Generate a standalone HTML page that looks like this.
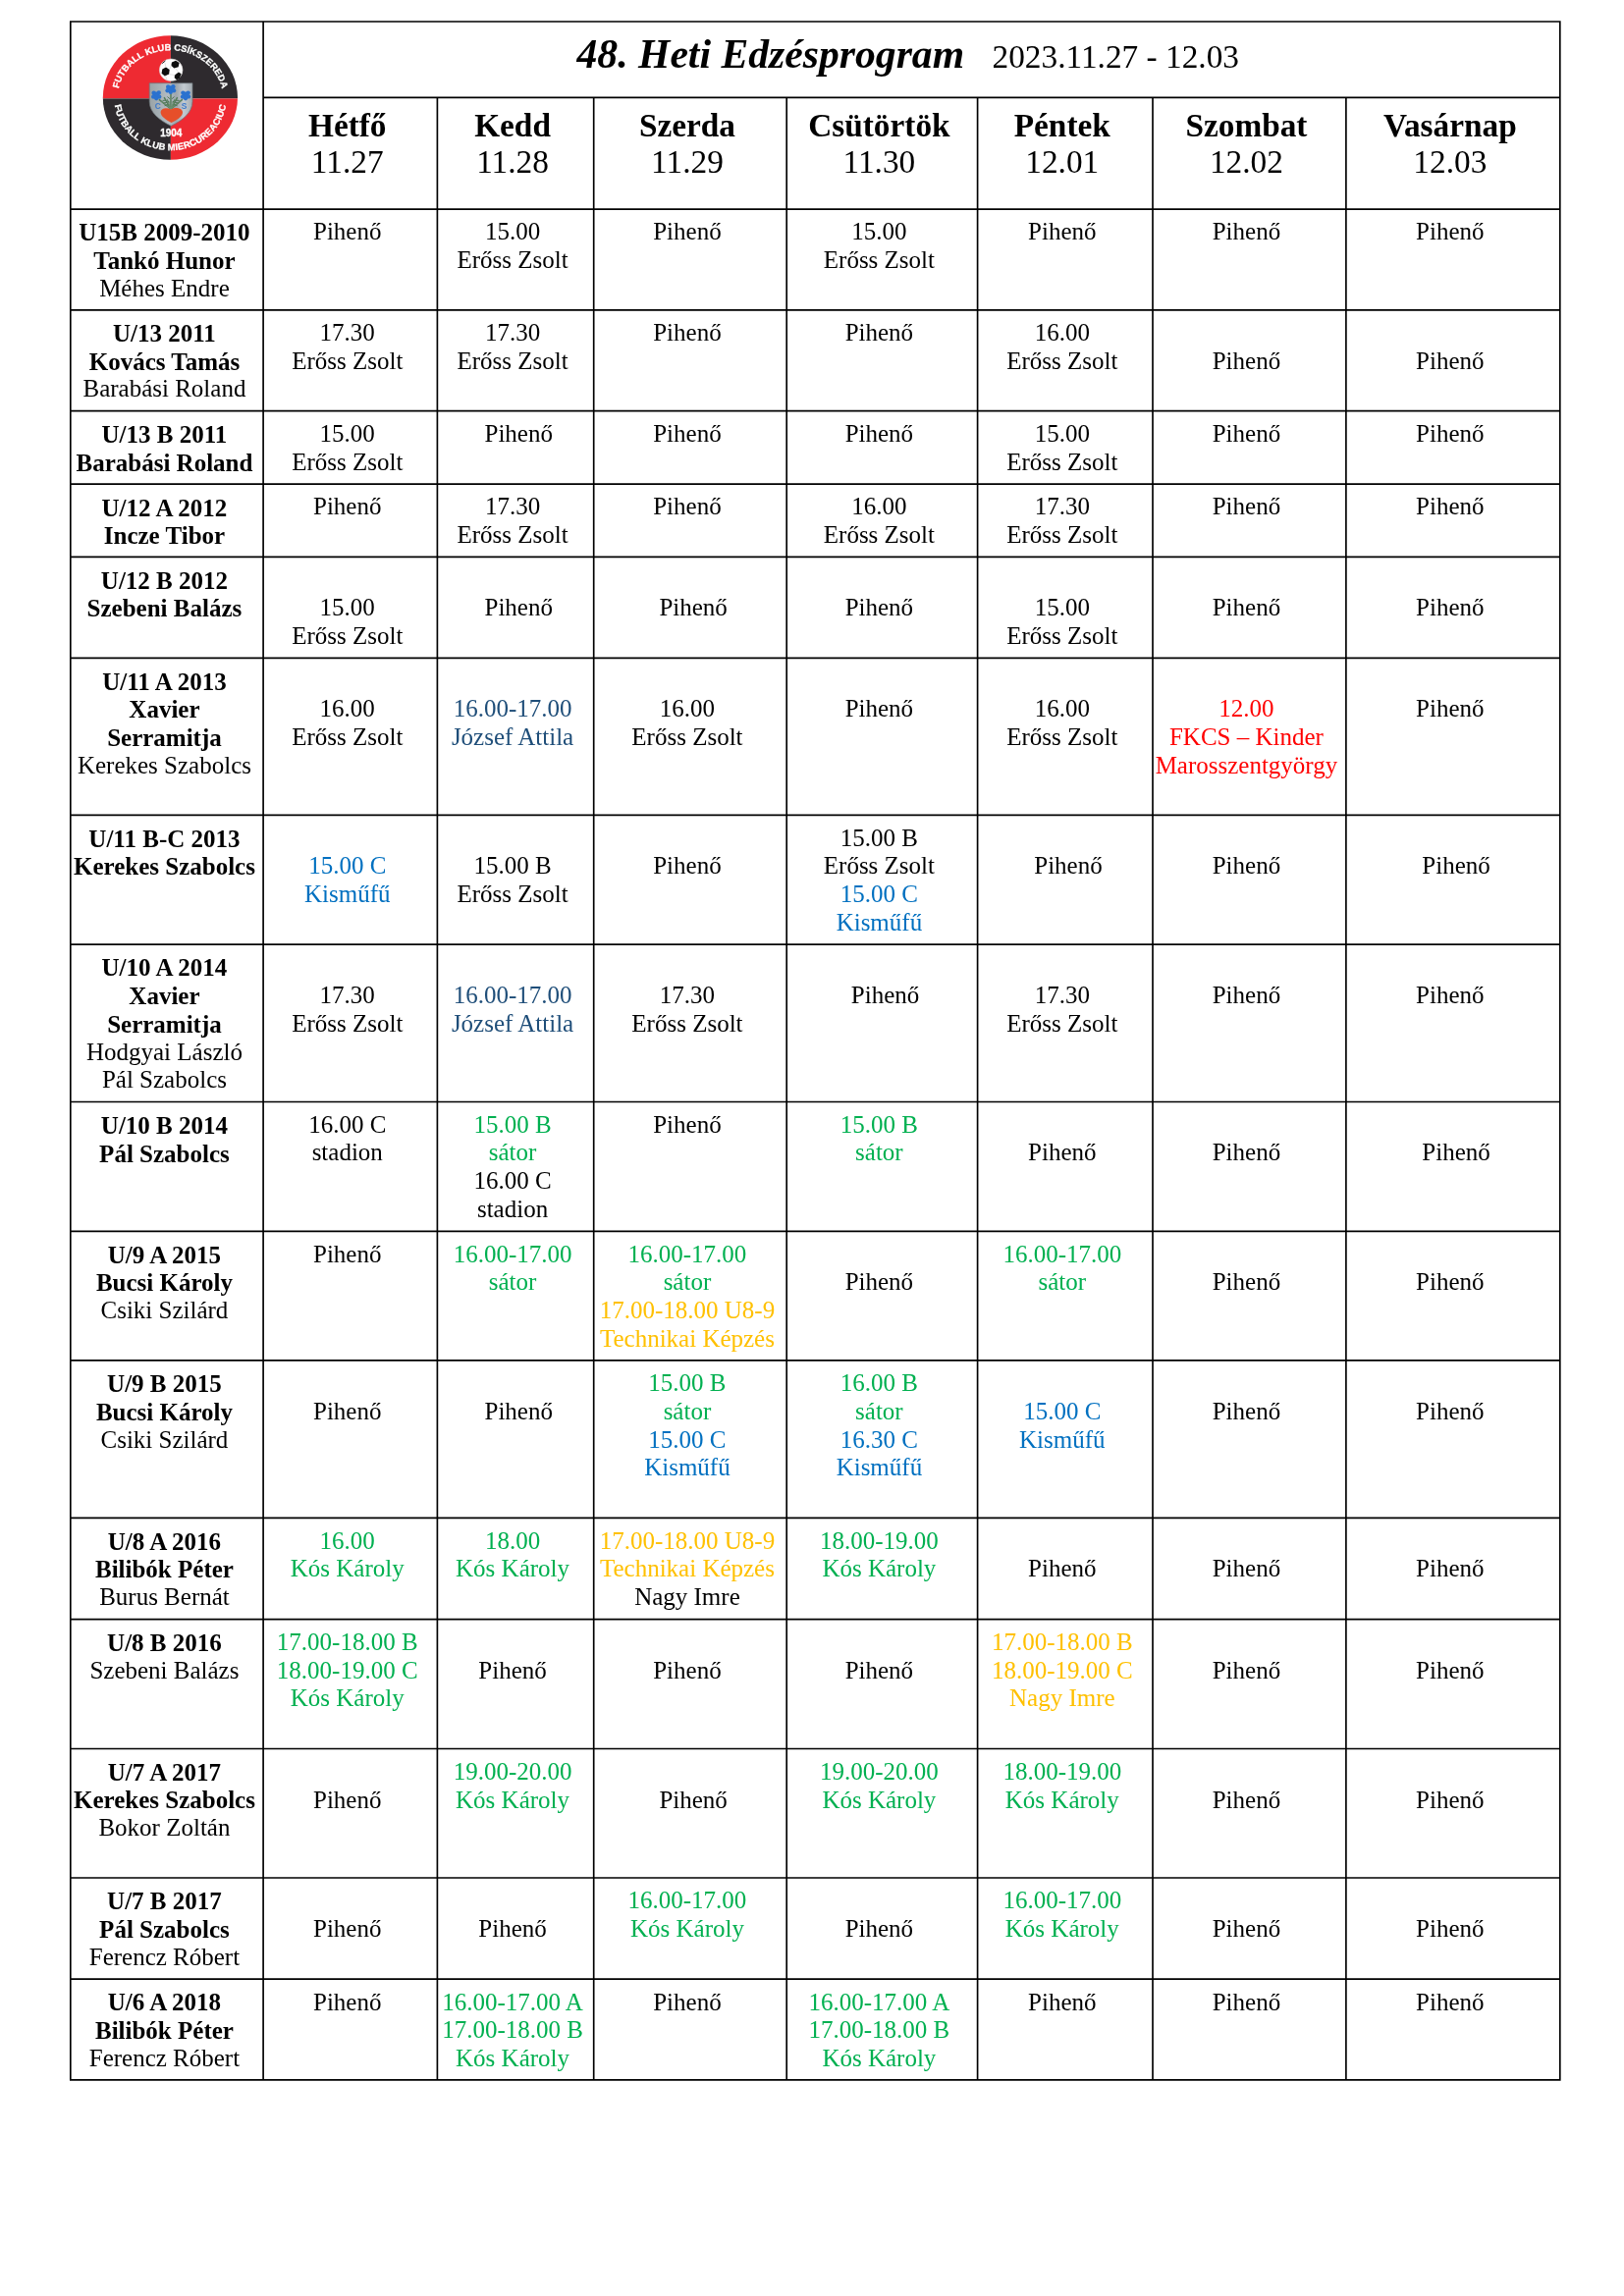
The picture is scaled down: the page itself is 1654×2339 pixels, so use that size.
<!DOCTYPE html>
<html lang="hu"><head><meta charset="utf-8"><title>48. Heti Edzésprogram</title>
<style>
html,body{margin:0;padding:0;background:#fff;}
body{width:1654px;height:2339px;position:relative;overflow:hidden;font-family:"Liberation Serif",serif;color:#000;}
#pg{position:absolute;left:0;top:0;width:1654px;height:2339px;will-change:transform;}
.c,.cb,.h,.hb,.t1,.t2{position:absolute;text-align:center;white-space:pre;}
.c,.cb{font-size:25px;line-height:27px;height:27px;}
.h,.hb{font-size:33.33px;line-height:37px;height:37px;}
.cb,.hb{font-weight:bold;}
.t1{font-size:41.67px;line-height:46px;font-weight:bold;font-style:italic;}
.t2{font-size:33.33px;line-height:37px;}
#grid{position:absolute;left:0;top:0;}
#logo{position:absolute;}
</style></head><body><div id="pg">
<svg id="grid" width="1654" height="2339" viewBox="0 0 1654 2339" fill="none" stroke="#000" stroke-width="1.67">
<path d="M70.97 22.00H1589.63M268.10 99.30H1589.63M70.97 213.10H1589.63M70.97 315.80H1589.63M70.97 418.60H1589.63M70.97 493.20H1589.63M70.97 567.40H1589.63M70.97 670.40H1589.63M70.97 830.40H1589.63M70.97 962.20H1589.63M70.97 1122.50H1589.63M70.97 1254.40H1589.63M70.97 1385.90H1589.63M70.97 1546.40H1589.63M70.97 1649.60H1589.63M70.97 1781.50H1589.63M70.97 1913.00H1589.63M70.97 2016.20H1589.63M70.97 2118.90H1589.63M71.80 21.16V2119.73M268.10 21.16V2119.73M445.40 99.30V2119.73M604.70 99.30V2119.73M801.20 99.30V2119.73M995.60 99.30V2119.73M1174.00 99.30V2119.73M1370.90 99.30V2119.73M1588.80 21.16V2119.73"/>
</svg>
<svg id="logo" style="left:100px;top:30px" width="150" height="140" viewBox="0 0 150 140" font-family="Liberation Sans, sans-serif" font-weight="bold">
<defs>
<clipPath id="lc"><ellipse cx="73.4" cy="69.5" rx="68.6" ry="63.2"/></clipPath>
<linearGradient id="sg" x1="0" y1="0" x2="1" y2="0"><stop offset="0" stop-color="#9aa3a6"/><stop offset=".45" stop-color="#b3bcc3"/><stop offset=".62" stop-color="#9ea6ad"/><stop offset=".8" stop-color="#c3cad0"/><stop offset="1" stop-color="#a3abb1"/></linearGradient>
<filter id="bl" x="-5%" y="-5%" width="110%" height="110%"><feGaussianBlur stdDeviation="0.45"/></filter>
<path id="ta" d="M20.9 60.3A53.5 48.3 0 0 1 125.9 60.3"/>
<path id="ba" d="M16.7 77.25A57.3 53.7 0 0 0 130.1 77.25"/>
</defs>
<g filter="url(#bl)">
<g clip-path="url(#lc)">
<rect x="0" y="0" width="73.9" height="70.4" fill="#ee2b33"/>
<rect x="73.9" y="0" width="80" height="70.4" fill="#2e2c2f"/>
<rect x="0" y="70.4" width="73.9" height="75" fill="#2e2c2f"/>
<rect x="73.9" y="70.4" width="80" height="75" fill="#ee2b33"/>
</g>
<text font-size="9.3" font-weight="bold" fill="#fff" stroke="#fff" stroke-width=".25"><textPath href="#ta" textLength="141.2" lengthAdjust="spacing">FUTBALL KLUB CSÍKSZEREDA</textPath></text>
<text font-size="9.4" font-weight="bold" fill="#fff" stroke="#fff" stroke-width=".25"><textPath href="#ba" textLength="158.7" lengthAdjust="spacing">FUTBALL KLUB MIERCUREACIUC</textPath></text>
<text x="74.3" y="108.5" font-size="10" font-weight="bold" fill="#fff" stroke="#fff" stroke-width=".3" text-anchor="middle">1904</text>
<!-- ball -->
<ellipse cx="74.2" cy="41.3" rx="11.8" ry="11.3" fill="#fdfdfd" stroke="#d9d4d4" stroke-width=".6"/>
<path d="M65.3 40.4l3.7-1.9 3.7 2.4-.6 4.7-4.3 2-3.2-2.8z" fill="#0a0a0a"/>
<path d="M75 33.4l4-1.7 3.6 2.3-1 4.2-4.3 1.4-3-2.9z" fill="#0a0a0a"/>
<path d="M77.9 46.6l4-3 2.7 1.7-1.8 4.4-2.9 1.6-2.2-2.1z" fill="#0a0a0a"/>
<path d="M65.2 34.6l3.2-2.6" stroke="#222" stroke-width="1" fill="none"/>
<path d="M72.3 41.2l2.5-5.1M72 45.5l6.5 1.2M78.5 39.3l3.5 4.7M69 39l-1-5M68 46.5l2 4.5" stroke="#c8c8c8" stroke-width=".5" fill="none"/>
<!-- shield -->
<path d="M52.2 54.7H96V73.5C96 84.5 86 92.6 74.2 98.3C62.4 92.6 52.2 84.5 52.2 73.5Z" fill="url(#sg)" stroke="#6c7378" stroke-width=".7"/>
<!-- leaves -->
<g stroke="#557d5c" stroke-width="1.5" fill="none" stroke-linecap="round">
<path d="M73.8 80.8L62.3 71.6M73.8 80.8L67.4 69.6M73.9 80.8L74 65.2M74.2 80.8L80.4 69.6M74.4 80.8L85.4 71.6"/>
<path d="M73.9 80.6L70.4 71.4M74 80.6L77.8 71.4M73.6 80.4L65 73.4M74.4 80.4L83 73.4" stroke="#6a8f70" stroke-width="1.2"/>
<path d="M68.6 72.2l-2.6.2M69.6 74.4l-2.8.6M70.8 76.6l-2.8 1M79.6 72.2l2.6.2M78.6 74.4l2.8.6M77.4 76.6l2.8 1M72.6 70.4l-1.8-1.6M75.4 70.4l1.8-1.6M72.4 74l-2-1.2M75.6 74l2-1.2" stroke="#4f7556" stroke-width="1"/>
</g>
<!-- flowers -->
<g fill="#2a72cf">
<circle cx="73.8" cy="60.6" r="3.4"/><circle cx="71.2" cy="58.4" r="2.2"/><circle cx="76.4" cy="58.3" r="2.2"/><circle cx="70.6" cy="62.2" r="2.2"/><circle cx="77" cy="62.2" r="2.2"/><circle cx="73.8" cy="64" r="2.1"/>
<circle cx="59.2" cy="66.8" r="3.4"/><circle cx="56.6" cy="64.8" r="2.2"/><circle cx="61.8" cy="64.4" r="2.2"/><circle cx="56.2" cy="68.6" r="2.2"/><circle cx="62.2" cy="68.6" r="2.2"/><circle cx="59.2" cy="70.3" r="2.1"/>
<circle cx="89" cy="66.8" r="3.4"/><circle cx="86.4" cy="64.6" r="2.2"/><circle cx="91.6" cy="64.6" r="2.2"/><circle cx="86" cy="68.6" r="2.2"/><circle cx="92" cy="68.4" r="2.2"/><circle cx="89" cy="70.3" r="2.1"/>
</g>
<!-- letters -->
<text x="60.7" y="80.6" font-size="8.4" font-weight="bold" fill="#3f7acb" text-anchor="middle">C</text>
<text x="87.6" y="80.6" font-size="8.4" font-weight="bold" fill="#3f7acb" text-anchor="middle">S</text>
<!-- heart -->
<path d="M74.6 94.9C70 92.5 63.4 88.6 63.6 84.2C63.8 80.4 69.6 78.8 74.2 81.4C78.8 78.8 85.8 80.2 86 84.4C86.2 88.6 79.4 92.5 74.6 94.9Z" fill="#e6502a"/>
</g>
</svg>
<div class="t1" style="left:587.5px;top:32px;">48. Heti Edzésprogram</div>
<div class="t2" style="left:1010.5px;top:39px;">2023.11.27 - 12.03</div>
<div class="hb" style="left:265.1px;width:177.3px;top:109px;">Hétfő</div>
<div class="h" style="left:265.1px;width:177.3px;top:146px;">11.27</div>
<div class="hb" style="left:442.4px;width:159.3px;top:109px;">Kedd</div>
<div class="h" style="left:442.4px;width:159.3px;top:146px;">11.28</div>
<div class="hb" style="left:601.7px;width:196.5px;top:109px;">Szerda</div>
<div class="h" style="left:601.7px;width:196.5px;top:146px;">11.29</div>
<div class="hb" style="left:798.2px;width:194.4px;top:109px;">Csütörtök</div>
<div class="h" style="left:798.2px;width:194.4px;top:146px;">11.30</div>
<div class="hb" style="left:992.6px;width:178.4px;top:109px;">Péntek</div>
<div class="h" style="left:992.6px;width:178.4px;top:146px;">12.01</div>
<div class="hb" style="left:1171.0px;width:196.9px;top:109px;">Szombat</div>
<div class="h" style="left:1171.0px;width:196.9px;top:146px;">12.02</div>
<div class="hb" style="left:1367.9px;width:217.9px;top:109px;">Vasárnap</div>
<div class="h" style="left:1367.9px;width:217.9px;top:146px;">12.03</div>
<div class="cb" style="left:69.3px;width:196.3px;top:223px;">U15B 2009-2010</div>
<div class="cb" style="left:69.3px;width:196.3px;top:252px;">Tankó Hunor</div>
<div class="c" style="left:69.3px;width:196.3px;top:280px;">Méhes Endre</div>
<div class="c" style="left:265.1px;width:177.3px;top:222px;">Pihenő</div>
<div class="c" style="left:442.4px;width:159.3px;top:222px;">15.00</div>
<div class="c" style="left:442.4px;width:159.3px;top:251px;">Erőss Zsolt</div>
<div class="c" style="left:601.7px;width:196.5px;top:222px;">Pihenő</div>
<div class="c" style="left:798.2px;width:194.4px;top:222px;">15.00</div>
<div class="c" style="left:798.2px;width:194.4px;top:251px;">Erőss Zsolt</div>
<div class="c" style="left:992.6px;width:178.4px;top:222px;">Pihenő</div>
<div class="c" style="left:1171.0px;width:196.9px;top:222px;">Pihenő</div>
<div class="c" style="left:1367.9px;width:217.9px;top:222px;">Pihenő</div>
<div class="cb" style="left:69.3px;width:196.3px;top:326px;">U/13 2011</div>
<div class="cb" style="left:69.3px;width:196.3px;top:355px;">Kovács Tamás</div>
<div class="c" style="left:69.3px;width:196.3px;top:382px;">Barabási Roland</div>
<div class="c" style="left:265.1px;width:177.3px;top:325px;">17.30</div>
<div class="c" style="left:265.1px;width:177.3px;top:354px;">Erőss Zsolt</div>
<div class="c" style="left:442.4px;width:159.3px;top:325px;">17.30</div>
<div class="c" style="left:442.4px;width:159.3px;top:354px;">Erőss Zsolt</div>
<div class="c" style="left:601.7px;width:196.5px;top:325px;">Pihenő</div>
<div class="c" style="left:798.2px;width:194.4px;top:325px;">Pihenő</div>
<div class="c" style="left:992.6px;width:178.4px;top:325px;">16.00</div>
<div class="c" style="left:992.6px;width:178.4px;top:354px;">Erőss Zsolt</div>
<div class="c" style="left:1171.0px;width:196.9px;top:354px;">Pihenő</div>
<div class="c" style="left:1367.9px;width:217.9px;top:354px;">Pihenő</div>
<div class="cb" style="left:69.3px;width:196.3px;top:429px;">U/13 B 2011</div>
<div class="cb" style="left:69.3px;width:196.3px;top:458px;">Barabási Roland</div>
<div class="c" style="left:265.1px;width:177.3px;top:428px;">15.00</div>
<div class="c" style="left:265.1px;width:177.3px;top:457px;">Erőss Zsolt</div>
<div class="c" style="left:448.6px;width:159.3px;top:428px;">Pihenő</div>
<div class="c" style="left:601.7px;width:196.5px;top:428px;">Pihenő</div>
<div class="c" style="left:798.2px;width:194.4px;top:428px;">Pihenő</div>
<div class="c" style="left:992.6px;width:178.4px;top:428px;">15.00</div>
<div class="c" style="left:992.6px;width:178.4px;top:457px;">Erőss Zsolt</div>
<div class="c" style="left:1171.0px;width:196.9px;top:428px;">Pihenő</div>
<div class="c" style="left:1367.9px;width:217.9px;top:428px;">Pihenő</div>
<div class="cb" style="left:69.3px;width:196.3px;top:504px;">U/12 A 2012</div>
<div class="cb" style="left:69.3px;width:196.3px;top:532px;">Incze Tibor</div>
<div class="c" style="left:265.1px;width:177.3px;top:502px;">Pihenő</div>
<div class="c" style="left:442.4px;width:159.3px;top:502px;">17.30</div>
<div class="c" style="left:442.4px;width:159.3px;top:531px;">Erőss Zsolt</div>
<div class="c" style="left:601.7px;width:196.5px;top:502px;">Pihenő</div>
<div class="c" style="left:798.2px;width:194.4px;top:502px;">16.00</div>
<div class="c" style="left:798.2px;width:194.4px;top:531px;">Erőss Zsolt</div>
<div class="c" style="left:992.6px;width:178.4px;top:502px;">17.30</div>
<div class="c" style="left:992.6px;width:178.4px;top:531px;">Erőss Zsolt</div>
<div class="c" style="left:1171.0px;width:196.9px;top:502px;">Pihenő</div>
<div class="c" style="left:1367.9px;width:217.9px;top:502px;">Pihenő</div>
<div class="cb" style="left:69.3px;width:196.3px;top:578px;">U/12 B 2012</div>
<div class="cb" style="left:69.3px;width:196.3px;top:606px;">Szebeni Balázs</div>
<div class="c" style="left:265.1px;width:177.3px;top:605px;">15.00</div>
<div class="c" style="left:265.1px;width:177.3px;top:634px;">Erőss Zsolt</div>
<div class="c" style="left:448.6px;width:159.3px;top:605px;">Pihenő</div>
<div class="c" style="left:607.9px;width:196.5px;top:605px;">Pihenő</div>
<div class="c" style="left:798.2px;width:194.4px;top:605px;">Pihenő</div>
<div class="c" style="left:992.6px;width:178.4px;top:605px;">15.00</div>
<div class="c" style="left:992.6px;width:178.4px;top:634px;">Erőss Zsolt</div>
<div class="c" style="left:1171.0px;width:196.9px;top:605px;">Pihenő</div>
<div class="c" style="left:1367.9px;width:217.9px;top:605px;">Pihenő</div>
<div class="cb" style="left:69.3px;width:196.3px;top:681px;">U/11 A 2013</div>
<div class="cb" style="left:69.3px;width:196.3px;top:709px;">Xavier</div>
<div class="cb" style="left:69.3px;width:196.3px;top:738px;">Serramitja</div>
<div class="c" style="left:69.3px;width:196.3px;top:766px;">Kerekes Szabolcs</div>
<div class="c" style="left:265.1px;width:177.3px;top:708px;">16.00</div>
<div class="c" style="left:265.1px;width:177.3px;top:737px;">Erőss Zsolt</div>
<div class="c" style="left:442.4px;width:159.3px;top:708px;color:#1F4E79;">16.00-17.00</div>
<div class="c" style="left:442.4px;width:159.3px;top:737px;color:#1F4E79;">József Attila</div>
<div class="c" style="left:601.7px;width:196.5px;top:708px;">16.00</div>
<div class="c" style="left:601.7px;width:196.5px;top:737px;">Erőss Zsolt</div>
<div class="c" style="left:798.2px;width:194.4px;top:708px;">Pihenő</div>
<div class="c" style="left:992.6px;width:178.4px;top:708px;">16.00</div>
<div class="c" style="left:992.6px;width:178.4px;top:737px;">Erőss Zsolt</div>
<div class="c" style="left:1171.0px;width:196.9px;top:708px;color:#FF0000;">12.00</div>
<div class="c" style="left:1171.0px;width:196.9px;top:737px;color:#FF0000;">FKCS – Kinder</div>
<div class="c" style="left:1171.0px;width:196.9px;top:766px;color:#FF0000;">Marosszentgyörgy</div>
<div class="c" style="left:1367.9px;width:217.9px;top:708px;">Pihenő</div>
<div class="cb" style="left:69.3px;width:196.3px;top:841px;">U/11 B-C 2013</div>
<div class="cb" style="left:69.3px;width:196.3px;top:869px;">Kerekes Szabolcs</div>
<div class="c" style="left:265.1px;width:177.3px;top:868px;color:#0070C0;">15.00 C</div>
<div class="c" style="left:265.1px;width:177.3px;top:897px;color:#0070C0;">Kisműfű</div>
<div class="c" style="left:442.4px;width:159.3px;top:868px;">15.00 B</div>
<div class="c" style="left:442.4px;width:159.3px;top:897px;">Erőss Zsolt</div>
<div class="c" style="left:601.7px;width:196.5px;top:868px;">Pihenő</div>
<div class="c" style="left:798.2px;width:194.4px;top:840px;">15.00 B</div>
<div class="c" style="left:798.2px;width:194.4px;top:868px;">Erőss Zsolt</div>
<div class="c" style="left:798.2px;width:194.4px;top:897px;color:#0070C0;">15.00 C</div>
<div class="c" style="left:798.2px;width:194.4px;top:926px;color:#0070C0;">Kisműfű</div>
<div class="c" style="left:998.8px;width:178.4px;top:868px;">Pihenő</div>
<div class="c" style="left:1171.0px;width:196.9px;top:868px;">Pihenő</div>
<div class="c" style="left:1374.1px;width:217.9px;top:868px;">Pihenő</div>
<div class="cb" style="left:69.3px;width:196.3px;top:972px;">U/10 A 2014</div>
<div class="cb" style="left:69.3px;width:196.3px;top:1001px;">Xavier</div>
<div class="cb" style="left:69.3px;width:196.3px;top:1030px;">Serramitja</div>
<div class="c" style="left:69.3px;width:196.3px;top:1058px;">Hodgyai László</div>
<div class="c" style="left:69.3px;width:196.3px;top:1086px;">Pál Szabolcs</div>
<div class="c" style="left:265.1px;width:177.3px;top:1000px;">17.30</div>
<div class="c" style="left:265.1px;width:177.3px;top:1029px;">Erőss Zsolt</div>
<div class="c" style="left:442.4px;width:159.3px;top:1000px;color:#1F4E79;">16.00-17.00</div>
<div class="c" style="left:442.4px;width:159.3px;top:1029px;color:#1F4E79;">József Attila</div>
<div class="c" style="left:601.7px;width:196.5px;top:1000px;">17.30</div>
<div class="c" style="left:601.7px;width:196.5px;top:1029px;">Erőss Zsolt</div>
<div class="c" style="left:804.4px;width:194.4px;top:1000px;">Pihenő</div>
<div class="c" style="left:992.6px;width:178.4px;top:1000px;">17.30</div>
<div class="c" style="left:992.6px;width:178.4px;top:1029px;">Erőss Zsolt</div>
<div class="c" style="left:1171.0px;width:196.9px;top:1000px;">Pihenő</div>
<div class="c" style="left:1367.9px;width:217.9px;top:1000px;">Pihenő</div>
<div class="cb" style="left:69.3px;width:196.3px;top:1133px;">U/10 B 2014</div>
<div class="cb" style="left:69.3px;width:196.3px;top:1162px;">Pál Szabolcs</div>
<div class="c" style="left:265.1px;width:177.3px;top:1132px;">16.00 C</div>
<div class="c" style="left:265.1px;width:177.3px;top:1160px;">stadion</div>
<div class="c" style="left:442.4px;width:159.3px;top:1132px;color:#00B050;">15.00 B</div>
<div class="c" style="left:442.4px;width:159.3px;top:1160px;color:#00B050;">sátor</div>
<div class="c" style="left:442.4px;width:159.3px;top:1189px;">16.00 C</div>
<div class="c" style="left:442.4px;width:159.3px;top:1218px;">stadion</div>
<div class="c" style="left:601.7px;width:196.5px;top:1132px;">Pihenő</div>
<div class="c" style="left:798.2px;width:194.4px;top:1132px;color:#00B050;">15.00 B</div>
<div class="c" style="left:798.2px;width:194.4px;top:1160px;color:#00B050;">sátor</div>
<div class="c" style="left:992.6px;width:178.4px;top:1160px;">Pihenő</div>
<div class="c" style="left:1171.0px;width:196.9px;top:1160px;">Pihenő</div>
<div class="c" style="left:1374.1px;width:217.9px;top:1160px;">Pihenő</div>
<div class="cb" style="left:69.3px;width:196.3px;top:1265px;">U/9 A 2015</div>
<div class="cb" style="left:69.3px;width:196.3px;top:1293px;">Bucsi Károly</div>
<div class="c" style="left:69.3px;width:196.3px;top:1321px;">Csiki Szilárd</div>
<div class="c" style="left:265.1px;width:177.3px;top:1264px;">Pihenő</div>
<div class="c" style="left:442.4px;width:159.3px;top:1264px;color:#00B050;">16.00-17.00</div>
<div class="c" style="left:442.4px;width:159.3px;top:1292px;color:#00B050;">sátor</div>
<div class="c" style="left:601.7px;width:196.5px;top:1264px;color:#00B050;">16.00-17.00</div>
<div class="c" style="left:601.7px;width:196.5px;top:1292px;color:#00B050;">sátor</div>
<div class="c" style="left:601.7px;width:196.5px;top:1321px;color:#FFC000;">17.00-18.00 U8-9</div>
<div class="c" style="left:601.7px;width:196.5px;top:1350px;color:#FFC000;">Technikai Képzés</div>
<div class="c" style="left:798.2px;width:194.4px;top:1292px;">Pihenő</div>
<div class="c" style="left:992.6px;width:178.4px;top:1264px;color:#00B050;">16.00-17.00</div>
<div class="c" style="left:992.6px;width:178.4px;top:1292px;color:#00B050;">sátor</div>
<div class="c" style="left:1171.0px;width:196.9px;top:1292px;">Pihenő</div>
<div class="c" style="left:1367.9px;width:217.9px;top:1292px;">Pihenő</div>
<div class="cb" style="left:69.3px;width:196.3px;top:1396px;">U/9 B 2015</div>
<div class="cb" style="left:69.3px;width:196.3px;top:1425px;">Bucsi Károly</div>
<div class="c" style="left:69.3px;width:196.3px;top:1453px;">Csiki Szilárd</div>
<div class="c" style="left:265.1px;width:177.3px;top:1424px;">Pihenő</div>
<div class="c" style="left:448.6px;width:159.3px;top:1424px;">Pihenő</div>
<div class="c" style="left:601.7px;width:196.5px;top:1395px;color:#00B050;">15.00 B</div>
<div class="c" style="left:601.7px;width:196.5px;top:1424px;color:#00B050;">sátor</div>
<div class="c" style="left:601.7px;width:196.5px;top:1453px;color:#0070C0;">15.00 C</div>
<div class="c" style="left:601.7px;width:196.5px;top:1481px;color:#0070C0;">Kisműfű</div>
<div class="c" style="left:798.2px;width:194.4px;top:1395px;color:#00B050;">16.00 B</div>
<div class="c" style="left:798.2px;width:194.4px;top:1424px;color:#00B050;">sátor</div>
<div class="c" style="left:798.2px;width:194.4px;top:1453px;color:#0070C0;">16.30 C</div>
<div class="c" style="left:798.2px;width:194.4px;top:1481px;color:#0070C0;">Kisműfű</div>
<div class="c" style="left:992.6px;width:178.4px;top:1424px;color:#0070C0;">15.00 C</div>
<div class="c" style="left:992.6px;width:178.4px;top:1453px;color:#0070C0;">Kisműfű</div>
<div class="c" style="left:1171.0px;width:196.9px;top:1424px;">Pihenő</div>
<div class="c" style="left:1367.9px;width:217.9px;top:1424px;">Pihenő</div>
<div class="cb" style="left:69.3px;width:196.3px;top:1557px;">U/8 A 2016</div>
<div class="cb" style="left:69.3px;width:196.3px;top:1585px;">Bilibók Péter</div>
<div class="c" style="left:69.3px;width:196.3px;top:1613px;">Burus Bernát</div>
<div class="c" style="left:265.1px;width:177.3px;top:1556px;color:#00B050;">16.00</div>
<div class="c" style="left:265.1px;width:177.3px;top:1584px;color:#00B050;">Kós Károly</div>
<div class="c" style="left:442.4px;width:159.3px;top:1556px;color:#00B050;">18.00</div>
<div class="c" style="left:442.4px;width:159.3px;top:1584px;color:#00B050;">Kós Károly</div>
<div class="c" style="left:601.7px;width:196.5px;top:1556px;color:#FFC000;">17.00-18.00 U8-9</div>
<div class="c" style="left:601.7px;width:196.5px;top:1584px;color:#FFC000;">Technikai Képzés</div>
<div class="c" style="left:601.7px;width:196.5px;top:1613px;">Nagy Imre</div>
<div class="c" style="left:798.2px;width:194.4px;top:1556px;color:#00B050;">18.00-19.00</div>
<div class="c" style="left:798.2px;width:194.4px;top:1584px;color:#00B050;">Kós Károly</div>
<div class="c" style="left:992.6px;width:178.4px;top:1584px;">Pihenő</div>
<div class="c" style="left:1171.0px;width:196.9px;top:1584px;">Pihenő</div>
<div class="c" style="left:1367.9px;width:217.9px;top:1584px;">Pihenő</div>
<div class="cb" style="left:69.3px;width:196.3px;top:1660px;">U/8 B 2016</div>
<div class="c" style="left:69.3px;width:196.3px;top:1688px;">Szebeni Balázs</div>
<div class="c" style="left:265.1px;width:177.3px;top:1659px;color:#00B050;">17.00-18.00 B</div>
<div class="c" style="left:265.1px;width:177.3px;top:1688px;color:#00B050;">18.00-19.00 C</div>
<div class="c" style="left:265.1px;width:177.3px;top:1716px;color:#00B050;">Kós Károly</div>
<div class="c" style="left:442.4px;width:159.3px;top:1688px;">Pihenő</div>
<div class="c" style="left:601.7px;width:196.5px;top:1688px;">Pihenő</div>
<div class="c" style="left:798.2px;width:194.4px;top:1688px;">Pihenő</div>
<div class="c" style="left:992.6px;width:178.4px;top:1659px;color:#FFC000;">17.00-18.00 B</div>
<div class="c" style="left:992.6px;width:178.4px;top:1688px;color:#FFC000;">18.00-19.00 C</div>
<div class="c" style="left:992.6px;width:178.4px;top:1716px;color:#FFC000;">Nagy Imre</div>
<div class="c" style="left:1171.0px;width:196.9px;top:1688px;">Pihenő</div>
<div class="c" style="left:1367.9px;width:217.9px;top:1688px;">Pihenő</div>
<div class="cb" style="left:69.3px;width:196.3px;top:1792px;">U/7 A 2017</div>
<div class="cb" style="left:69.3px;width:196.3px;top:1820px;">Kerekes Szabolcs</div>
<div class="c" style="left:69.3px;width:196.3px;top:1848px;">Bokor Zoltán</div>
<div class="c" style="left:265.1px;width:177.3px;top:1820px;">Pihenő</div>
<div class="c" style="left:442.4px;width:159.3px;top:1791px;color:#00B050;">19.00-20.00</div>
<div class="c" style="left:442.4px;width:159.3px;top:1820px;color:#00B050;">Kós Károly</div>
<div class="c" style="left:607.9px;width:196.5px;top:1820px;">Pihenő</div>
<div class="c" style="left:798.2px;width:194.4px;top:1791px;color:#00B050;">19.00-20.00</div>
<div class="c" style="left:798.2px;width:194.4px;top:1820px;color:#00B050;">Kós Károly</div>
<div class="c" style="left:992.6px;width:178.4px;top:1791px;color:#00B050;">18.00-19.00</div>
<div class="c" style="left:992.6px;width:178.4px;top:1820px;color:#00B050;">Kós Károly</div>
<div class="c" style="left:1171.0px;width:196.9px;top:1820px;">Pihenő</div>
<div class="c" style="left:1367.9px;width:217.9px;top:1820px;">Pihenő</div>
<div class="cb" style="left:69.3px;width:196.3px;top:1923px;">U/7 B 2017</div>
<div class="cb" style="left:69.3px;width:196.3px;top:1952px;">Pál Szabolcs</div>
<div class="c" style="left:69.3px;width:196.3px;top:1980px;">Ferencz Róbert</div>
<div class="c" style="left:265.1px;width:177.3px;top:1951px;">Pihenő</div>
<div class="c" style="left:442.4px;width:159.3px;top:1951px;">Pihenő</div>
<div class="c" style="left:601.7px;width:196.5px;top:1922px;color:#00B050;">16.00-17.00</div>
<div class="c" style="left:601.7px;width:196.5px;top:1951px;color:#00B050;">Kós Károly</div>
<div class="c" style="left:798.2px;width:194.4px;top:1951px;">Pihenő</div>
<div class="c" style="left:992.6px;width:178.4px;top:1922px;color:#00B050;">16.00-17.00</div>
<div class="c" style="left:992.6px;width:178.4px;top:1951px;color:#00B050;">Kós Károly</div>
<div class="c" style="left:1171.0px;width:196.9px;top:1951px;">Pihenő</div>
<div class="c" style="left:1367.9px;width:217.9px;top:1951px;">Pihenő</div>
<div class="cb" style="left:69.3px;width:196.3px;top:2026px;">U/6 A 2018</div>
<div class="cb" style="left:69.3px;width:196.3px;top:2055px;">Bilibók Péter</div>
<div class="c" style="left:69.3px;width:196.3px;top:2083px;">Ferencz Róbert</div>
<div class="c" style="left:265.1px;width:177.3px;top:2026px;">Pihenő</div>
<div class="c" style="left:442.4px;width:159.3px;top:2026px;color:#00B050;">16.00-17.00 A</div>
<div class="c" style="left:442.4px;width:159.3px;top:2054px;color:#00B050;">17.00-18.00 B</div>
<div class="c" style="left:442.4px;width:159.3px;top:2083px;color:#00B050;">Kós Károly</div>
<div class="c" style="left:601.7px;width:196.5px;top:2026px;">Pihenő</div>
<div class="c" style="left:798.2px;width:194.4px;top:2026px;color:#00B050;">16.00-17.00 A</div>
<div class="c" style="left:798.2px;width:194.4px;top:2054px;color:#00B050;">17.00-18.00 B</div>
<div class="c" style="left:798.2px;width:194.4px;top:2083px;color:#00B050;">Kós Károly</div>
<div class="c" style="left:992.6px;width:178.4px;top:2026px;">Pihenő</div>
<div class="c" style="left:1171.0px;width:196.9px;top:2026px;">Pihenő</div>
<div class="c" style="left:1367.9px;width:217.9px;top:2026px;">Pihenő</div>
</div></body></html>
